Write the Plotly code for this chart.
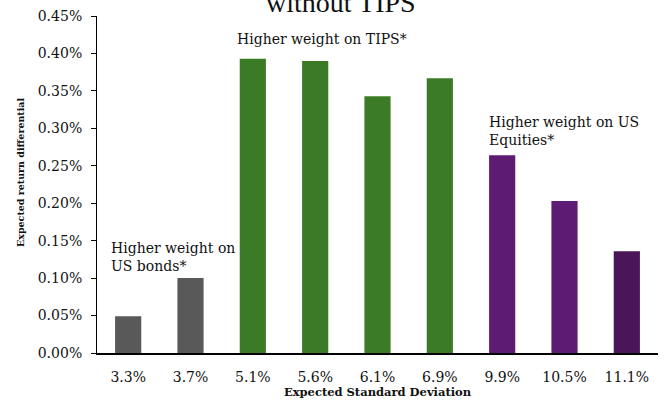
import plotly.graph_objects as go

categories = ["3.3%", "3.7%", "5.1%", "5.6%", "6.1%", "6.9%", "9.9%", "10.5%", "11.1%"]
values = [0.00049, 0.00100, 0.00393, 0.00390, 0.00343, 0.00367, 0.00264, 0.00203, 0.00136]
colors = ["#595959", "#595959", "#3C7B25", "#3C7B25", "#3C7B25", "#3C7B25", "#5E1B73", "#5E1B73", "#4A1659"]
tick_vals = [0, 0.0005, 0.001, 0.0015, 0.002, 0.0025, 0.003, 0.0035, 0.004, 0.0045]

FONT = "DejaVu Serif"

fig = go.Figure(go.Bar(x=categories, y=values, marker=dict(color=colors, line=dict(width=0)), width=0.42))

fig.update_layout(
    width=664, height=403,
    margin=dict(l=97, r=6, t=16, b=50),
    paper_bgcolor="white", plot_bgcolor="white",
    font=dict(family=FONT, color="#111"),
    showlegend=False,
    xaxis=dict(
        type="category", showline=True, linecolor="#000", linewidth=1.5,
        ticks="", tickfont=dict(size=14, color="#111"), ticklabelstandoff=10,
        title=dict(text="Expected Standard Deviation", font=dict(size=11.5, weight="bold"), standoff=2),
    ),
    yaxis=dict(
        range=[0, 0.0045], tickvals=tick_vals, tickformat=".2%",
        showline=True, linecolor="#000", linewidth=1, ticks="outside", ticklen=5,
        tickcolor="#000", showgrid=False, zeroline=False, ticklabelstandoff=6,
        tickfont=dict(size=14, color="#111"),
    ),
    annotations=[
        dict(text="without TIPS", xref="paper", yref="paper", x=(341 - 97) / (664 - 97 - 6), y=1,
             yanchor="middle", yshift=14, showarrow=False,
             font=dict(size=28, family="Liberation Serif", color="#111")),
        dict(text="Expected return differential", xref="paper", yref="paper",
             x=0, xshift=-77, y=(353 - 172) / 337, textangle=-90, showarrow=False,
             xanchor="center", yanchor="middle", font=dict(size=9.5, weight="bold")),
        dict(text="Higher weight on<br>US bonds*", xref="x", yref="y", x=-0.3, y=0.00153,
             xanchor="left", yanchor="top", align="left", showarrow=False, font=dict(size=14)),
        dict(text="Higher weight on TIPS*", xref="x", yref="y", x=1.72, y=0.00433,
             xanchor="left", yanchor="top", align="left", showarrow=False, font=dict(size=14)),
        dict(text="Higher weight on US<br>Equities*", xref="x", yref="y", x=5.75, y=0.00322,
             xanchor="left", yanchor="top", align="left", showarrow=False, font=dict(size=14)),
    ],
)

fig.write_html("out.html")
